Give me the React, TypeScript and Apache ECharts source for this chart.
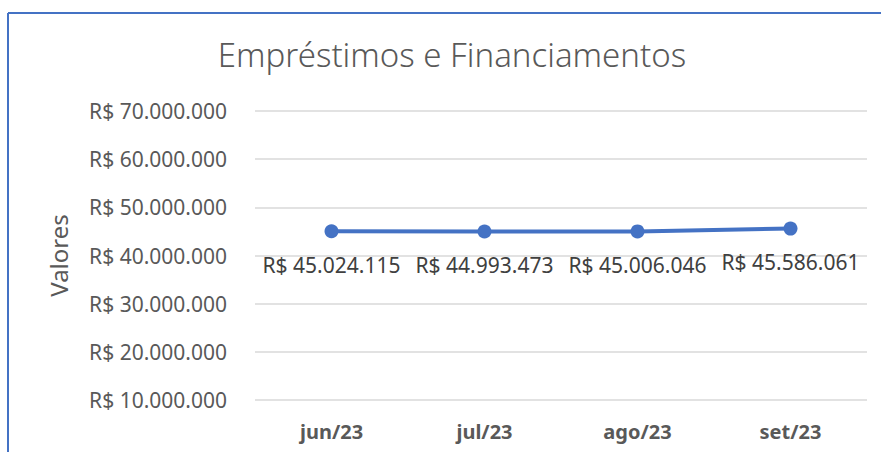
import React, { useEffect, useRef } from "react";
import * as echarts from "echarts";

const categories = ["jun/23", "jul/23", "ago/23", "set/23"];
const values = [45024115, 44993473, 45006046, 45586061];
const yMin = 10000000;
const yMax = 70000000;
const yStep = 10000000;
const titleText = "Empréstimos e Financiamentos";
const yAxisName = "Valores";

const fmt = (v: number) =>
  "R$ " + Math.round(v).toString().replace(/\B(?=(\d{3})+(?!\d))/g, ".");

export default function App() {
  const ref = useRef<HTMLDivElement>(null);
  useEffect(() => {
    if (!ref.current) return;
    const chart = echarts.init(ref.current, null, { renderer: "svg" });
    const font = "'Noto Sans', sans-serif";
    chart.setOption({
      animation: false,
      backgroundColor: "#ffffff",
      textStyle: { fontFamily: font, color: "#595959" },
      title: {
        text: titleText,
        left: 447,
        top: 33,
        textAlign: "center",
        textStyle: { fontFamily: font, fontSize: 33, fontWeight: 300, color: "#595959" },
      },
      graphic: [
        { type: "line", shape: { x1: 8, y1: 13, x2: 881, y2: 13 }, style: { stroke: "#4472C4", lineWidth: 2 } },
        { type: "line", shape: { x1: 8, y1: 13, x2: 8, y2: 452 }, style: { stroke: "#4472C4", lineWidth: 2 } },
      ],
      grid: { left: 255, right: 14, top: 111, bottom: 52, containLabel: false },
      xAxis: {
        type: "category",
        data: categories,
        boundaryGap: true,
        axisLine: { show: false },
        axisTick: { show: false },
        axisLabel: {
          margin: 21,
          fontFamily: font,
          fontSize: 20,
          fontWeight: "bold",
          color: "#595959",
        },
      },
      yAxis: {
        type: "value",
        min: yMin,
        max: yMax,
        interval: yStep,
        name: yAxisName,
        nameLocation: "middle",
        nameGap: 185,
        nameTextStyle: { fontFamily: font, fontSize: 24, color: "#595959" },
        axisLine: { show: false },
        axisTick: { show: false },
        splitLine: { lineStyle: { color: "#d9d9d9", width: 1.5 } },
        axisLabel: {
          margin: 28,
          fontFamily: font,
          fontSize: 21,
          color: "#595959",
          formatter: (v: number) => fmt(v),
        },
      },
      series: [
        {
          type: "line",
          data: values,
          symbol: "circle",
          symbolSize: 14,
          lineStyle: { color: "#4472C4", width: 4 },
          itemStyle: { color: "#4472C4" },
          label: {
            show: true,
            position: "bottom",
            distance: 16,
            fontFamily: font,
            fontSize: 21,
            color: "#404040",
            formatter: (p: any) => fmt(p.value),
          },
        },
      ],
    });
    return () => chart.dispose();
  }, []);
  return (
    <div
      ref={ref}
      style={{ position: "absolute", left: 0, top: 0, width: 881, height: 452 }}
    />
  );
}
